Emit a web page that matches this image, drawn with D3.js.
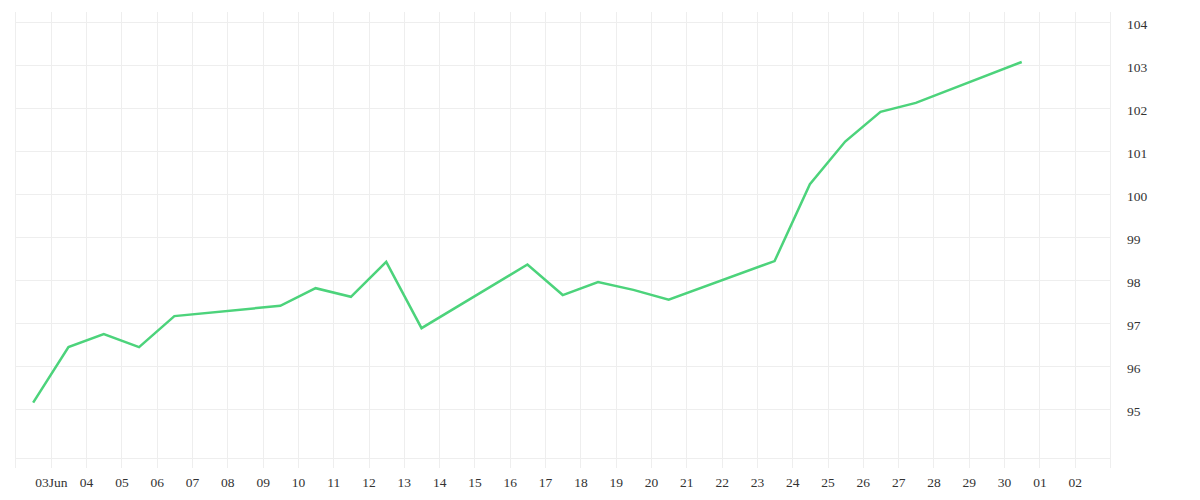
<!DOCTYPE html>
<html>
<head>
<meta charset="utf-8">
<script src="https://cdn.jsdelivr.net/npm/d3@7"></script>
<style>
  html, body { margin: 0; padding: 0; background: #fff; }
  svg { display: block; }
  .tick text { font-family: "Liberation Serif", "DejaVu Serif", serif; font-size: 13.5px; fill: #333; }
</style>
</head>
<body>
<svg id="chart" width="1200" height="500"></svg>
<script>
// Data (timestamps at noon of each day)
const dates = ["2024-06-02","2024-06-03","2024-06-04","2024-06-05","2024-06-06","2024-06-09",
  "2024-06-10","2024-06-11","2024-06-12","2024-06-13","2024-06-16","2024-06-17","2024-06-18",
  "2024-06-19","2024-06-20","2024-06-23","2024-06-24","2024-06-25","2024-06-26","2024-06-27","2024-06-30"];
const values = [95.15, 96.44, 96.74, 96.44, 97.16, 97.40,
  97.81, 97.61, 98.42, 96.88, 98.36, 97.65, 97.95,
  97.77, 97.54, 98.44, 100.23, 101.22, 101.91, 102.12, 103.07];
const yTicks = [95, 96, 97, 98, 99, 100, 101, 102, 103, 104];
const xDomain = ["2024-06-02", "2024-07-03"];

(function () {
const parse = d3.timeParse("%Y-%m-%d");
const data = dates.map((d, i) => ({ t: d3.timeHour.offset(parse(d), 12), v: values[i] }));

const svg = d3.select("#chart");
const pl = 15.5, pr = 1110, pt = 12, pb = 458;

const x = d3.scaleTime().domain(xDomain.map(parse)).range([pl, pr]);
const y = d3.scaleLinear().domain([95, 104]).range([409, 22]);

const grid = "#eeeeee";

// vertical gridlines + ticks
const xTickDates = d3.timeDay.range(parse("2024-06-03"), parse("2024-07-03"));
svg.append("g").selectAll("line").data(xTickDates).join("line")
  .attr("x1", d => Math.round(x(d)) + 0.5).attr("x2", d => Math.round(x(d)) + 0.5)
  .attr("y1", pt).attr("y2", pb + 10)
  .attr("stroke", grid).attr("stroke-width", 1);

// horizontal gridlines
svg.append("g").selectAll("line").data(yTicks).join("line")
  .attr("x1", pl).attr("x2", pr)
  .attr("y1", d => Math.round(y(d)) + 0.5).attr("y2", d => Math.round(y(d)) + 0.5)
  .attr("stroke", grid).attr("stroke-width", 1);

// borders
svg.append("line").attr("x1", pl).attr("x2", pr).attr("y1", pb + 0.5).attr("y2", pb + 0.5).attr("stroke", grid);
svg.append("line").attr("x1", pl).attr("x2", pl).attr("y1", pt).attr("y2", pb + 10).attr("stroke", grid);
svg.append("line").attr("x1", pr + 0.5).attr("x2", pr + 0.5).attr("y1", pt).attr("y2", pb + 10).attr("stroke", grid);

// x axis labels
const xAxis = d3.axisBottom(x).tickValues(xTickDates).tickSize(0).tickPadding(0)
  .tickFormat((d, i) => i === 0 ? d3.timeFormat("%d%b")(d) : d3.timeFormat("%d")(d));
const ax = svg.append("g").attr("transform", `translate(0,${pb + 19})`).call(xAxis);
ax.select(".domain").remove();
ax.selectAll(".tick text").attr("dy", "0.71em");

// y axis labels
const yAxis = d3.axisRight(y).tickValues(yTicks).tickSize(0).tickPadding(0).tickFormat(d3.format("d"));
const ay = svg.append("g").attr("transform", `translate(1127,2)`).call(yAxis);
ay.select(".domain").remove();
ay.selectAll(".tick text").attr("text-anchor", "start");

// line
const line = d3.line().x(d => x(d.t)).y(d => y(d.v));
svg.append("path").datum(data)
  .attr("d", line)
  .attr("fill", "none")
  .attr("stroke", "#4cd37b")
  .attr("stroke-width", 2.5)
  .attr("stroke-linejoin", "miter");
})();
</script>
</body>
</html>
